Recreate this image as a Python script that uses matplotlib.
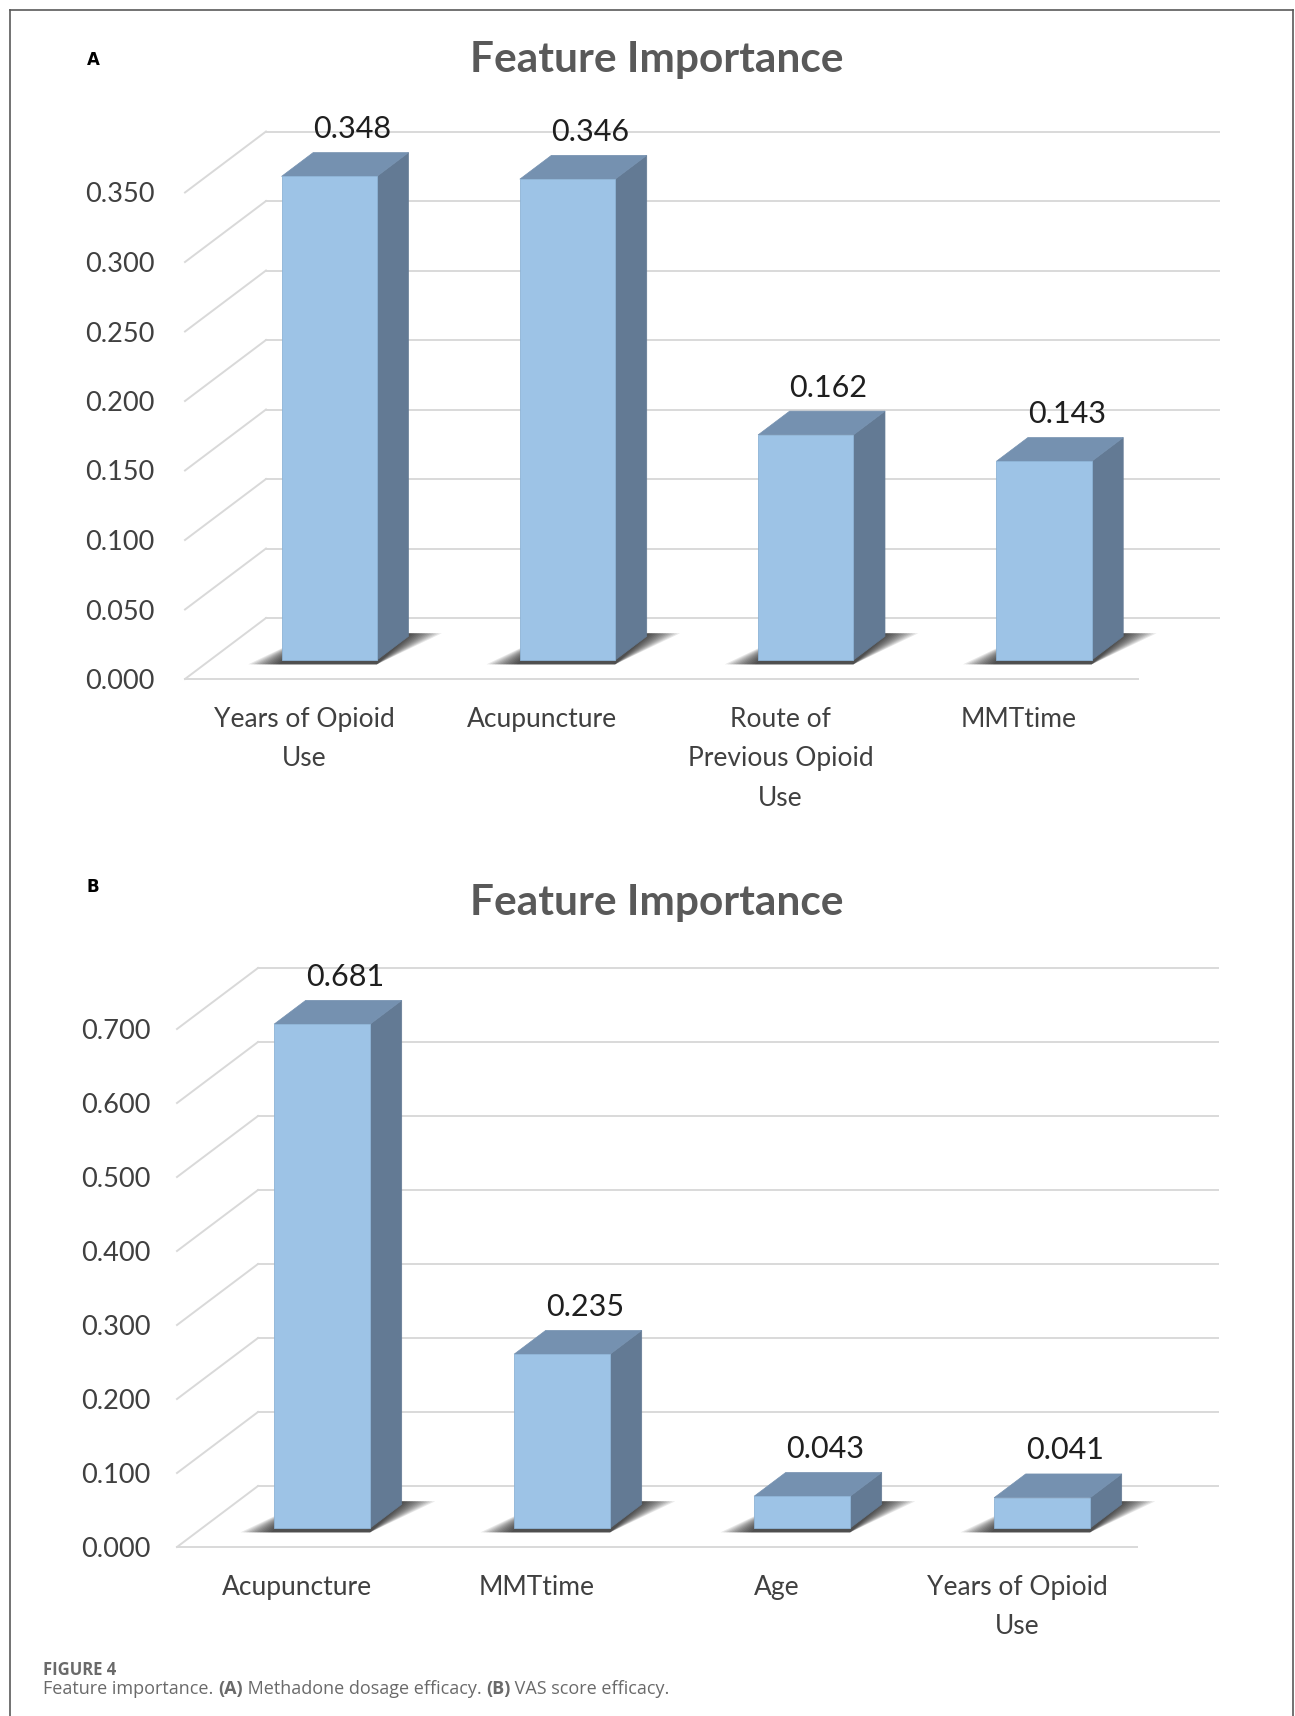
import matplotlib.pyplot as plt
import numpy as np
from matplotlib.patches import Polygon
from matplotlib.lines import Line2D

plt.rcParams['font.family'] = ['Lato', 'DejaVu Sans']

# panel A data
cats_a = ['Years of Opioid\nUse', 'Acupuncture', 'Route of\nPrevious Opioid\nUse', 'MMTtime']
vals_a = [0.348, 0.346, 0.162, 0.143]
ticks_a = [0.000, 0.050, 0.100, 0.150, 0.200, 0.250, 0.300, 0.350]

# panel B data
cats_b = ['Acupuncture', 'MMTtime', 'Age', 'Years of Opioid\nUse']
vals_b = [0.681, 0.235, 0.043, 0.041]
ticks_b = [0.000, 0.100, 0.200, 0.300, 0.400, 0.500, 0.600, 0.700]

W, H = 1295, 1716
FRONT = '#9DC3E6'
SIDE = '#637A94'
TOP = '#7591B0'
GRID = '#D9D9D9'
TXT = '#404040'

fig = plt.figure(figsize=(W / 100, H / 100), dpi=100)

DEPTH_X, DEPTH_Y = 81, 61   # px of the 3d depth
D0, D1 = 0.31, 0.70         # bar position in depth
BAR_W = 0.40


def make_axes(left, floor, top, px_cat, px_val):
    width = 4 * px_cat + DEPTH_X
    ax = fig.add_axes([left / W, 1 - floor / H, width / W, (floor - top) / H])
    ax.set_xlim(0, 4 + DEPTH_X / px_cat)
    ax.set_ylim(0, (floor - top) / px_val)
    return ax, DEPTH_X / px_cat, DEPTH_Y / px_val


def draw_panel(ax, ddx, ddy, cats, vals, ticks, ypad):
    n = len(cats)
    for t in ticks:
        ax.plot([0, ddx], [t, t + ddy], color=GRID, lw=1.4, clip_on=False, zorder=1)
        ax.plot([ddx, n + ddx], [t + ddy, t + ddy], color=GRID, lw=1.4, clip_on=False, zorder=1)
    ax.plot([0, n], [0, 0], color=GRID, lw=1.4, clip_on=False, zorder=1)

    sh = 0.14
    for i, v in enumerate(vals):
        x0 = i + 0.5 - BAR_W / 2
        x1 = i + 0.5 + BAR_W / 2
        fy, by = D0 * ddy, D1 * ddy
        fx, bx = D0 * ddx, D1 * ddx
        # soft shadow on the floor
        for k in np.linspace(1, 0.1, 12):
            pts = [(x0 + fx - k * sh, fy - 0.07 * ddy), (x1 + fx, fy - 0.07 * ddy),
                   (x1 + bx + k * sh, by + 0.05 * ddy), (x0 + bx, by + 0.05 * ddy)]
            ax.add_patch(Polygon(pts, closed=True, facecolor='k', edgecolor='none',
                                 alpha=0.09, zorder=2, clip_on=False))
        # side
        ax.add_patch(Polygon([(x1 + fx, fy), (x1 + bx, by), (x1 + bx, by + v), (x1 + fx, fy + v)],
                             facecolor=SIDE, edgecolor=SIDE, lw=0.5, zorder=3, clip_on=False))
        # top
        ax.add_patch(Polygon([(x0 + fx, fy + v), (x1 + fx, fy + v), (x1 + bx, by + v), (x0 + bx, by + v)],
                             facecolor=TOP, edgecolor=TOP, lw=0.5, zorder=3, clip_on=False))
        # front
        ax.add_patch(Polygon([(x0 + fx, fy), (x1 + fx, fy), (x1 + fx, fy + v), (x0 + fx, fy + v)],
                             facecolor=FRONT, edgecolor='#8DB3D6', lw=0.6, zorder=4, clip_on=False))
        ax.annotate(f'{v:.3f}', xy=(i + 0.5 + (D0 + D1) / 2 * ddx, by + v), xytext=(5, 17),
                    textcoords='offset points', ha='center', va='center',
                    fontsize=22, color='#1f1f1f', zorder=5)

    ax.set_yticks(ticks)
    ax.set_yticklabels([f'{t:.3f}' for t in ticks])
    ax.set_xticks(np.arange(n) + 0.5)
    ax.set_xticklabels(cats, linespacing=1.72)
    ax.tick_params(axis='y', length=0, pad=ypad, labelsize=19.5, labelcolor=TXT)
    ax.tick_params(axis='x', length=0, pad=20, labelsize=19, labelcolor=TXT)
    for s in ax.spines.values():
        s.set_visible(False)
    ax.patch.set_visible(False)


ax_a, ddx_a, ddy_a = make_axes(185, 679, 100, 238.25, 1390)
draw_panel(ax_a, ddx_a, ddy_a, cats_a, vals_a, ticks_a, 22)

ax_b, ddx_b, ddy_b = make_axes(177, 1547, 930, 240, 740)
draw_panel(ax_b, ddx_b, ddy_b, cats_b, vals_b, ticks_b, 19)

# titles and panel letters
for y, letter in [(60, 'A'), (887, 'B')]:
    fig.text(93 / W, 1 - y / H, letter, ha='center', va='center', fontsize=12,
             fontweight='bold', color='k', family=['DejaVu Sans'])
for y in [60, 903]:
    fig.text(657 / W, 1 - y / H, 'Feature Importance', ha='center', va='center',
             fontsize=30.5, fontweight='bold', color='#595959')

# caption
fig.text(43 / W, 1 - 1675 / H, 'FIGURE 4', fontsize=12, fontweight='bold',
         color='#6a6a6a', family=['Open Sans', 'DejaVu Sans'], va='baseline')
renderer = fig.canvas.get_renderer()
parts = [('Feature importance. ', 'normal'), ('(A)', 'bold'),
         (' Methadone dosage efficacy. ', 'normal'), ('(B)', 'bold'),
         (' VAS score efficacy.', 'normal')]
x = 43
for s, wgt in parts:
    t = fig.text(x / W, 1 - 1694 / H, s, fontsize=13, fontweight=wgt, color='#6a6a6a',
                 family=['Open Sans', 'DejaVu Sans'], va='baseline')
    x += t.get_window_extent(renderer).width

# frame
for xs, ys in [([10, 10], [10, H]), ([10, 1293], [10, 10]), ([1293, 1293], [10, H])]:
    fig.add_artist(Line2D([a / W for a in xs], [1 - b / H for b in ys],
                          transform=fig.transFigure, color='#5a5a5a', lw=1.2))

fig.savefig('out.png', dpi=100)
